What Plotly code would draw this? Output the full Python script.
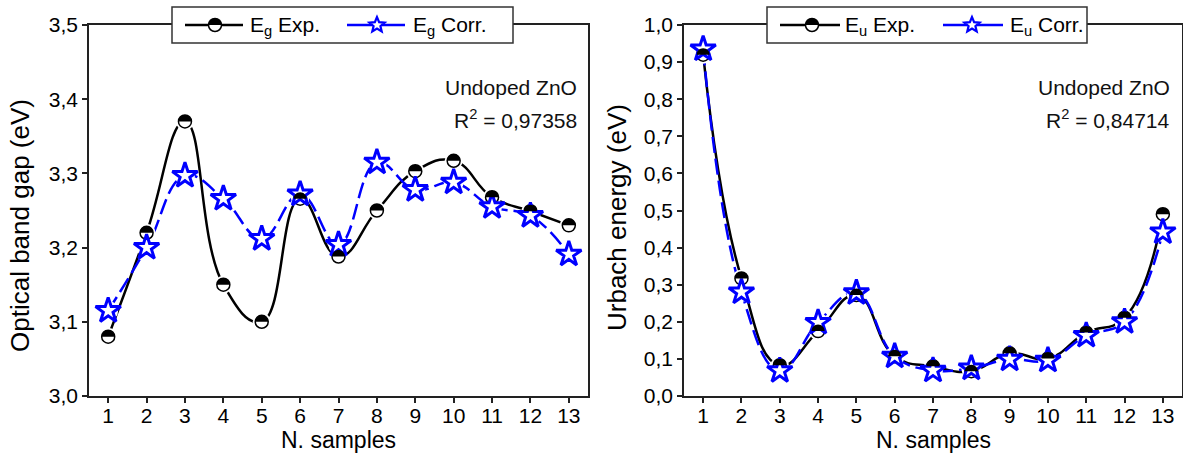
import math
import plotly.graph_objects as go

# ---------------- data ----------------
samples = list(range(1, 14))
eg_exp = [3.080, 3.220, 3.370, 3.150, 3.100, 3.266, 3.188, 3.250, 3.303, 3.317, 3.268, 3.249, 3.230]
eg_corr = [3.115, 3.200, 3.297, 3.266, 3.212, 3.272, 3.204, 3.315, 3.278, 3.288, 3.255, 3.243, 3.191]
eu_exp = [0.920, 0.317, 0.083, 0.175, 0.272, 0.107, 0.080, 0.067, 0.115, 0.101, 0.171, 0.211, 0.490]
eu_corr = [0.935, 0.280, 0.068, 0.198, 0.278, 0.107, 0.069, 0.075, 0.099, 0.096, 0.163, 0.200, 0.442]
x_ticks = list(range(1, 14))
left_yticks = [3.0, 3.1, 3.2, 3.3, 3.4, 3.5]
right_yticks = [0.0, 0.1, 0.2, 0.3, 0.4, 0.5, 0.6, 0.7, 0.8, 0.9, 1.0]
legend_left = ["E<sub>g</sub> Exp.", "E<sub>g</sub> Corr."]
legend_right = ["E<sub>u</sub> Exp.", "E<sub>u</sub> Corr."]
r2_left = "0,97358"
r2_right = "0,84714"

FONT = "Liberation Sans, Arial, sans-serif"
BLUE = "#0000ff"
W, H = 1183, 457
PT, PB = 25, 396          # plot top / bottom in pixels
PH = PB - PT

def py(ypix):            # pixel row -> paper y
    return (PB - ypix) / PH

def px(xpix):            # pixel column -> paper x
    return xpix / W

fig = go.Figure()

series = [
    (eg_exp, "x", "y", "exp"), (eg_corr, "x", "y", "corr"),
    (eu_exp, "x2", "y2", "exp"), (eu_corr, "x2", "y2", "corr"),
]

# 1) lines
for ys, xa, ya, kind in series:
    if kind == "exp":
        line = dict(color="black", width=2.5, shape="spline", smoothing=1.3)
    else:
        line = dict(color=BLUE, width=2.5, shape="spline", smoothing=1.2, dash="16px,6px")
    fig.add_trace(go.Scatter(x=samples, y=ys, xaxis=xa, yaxis=ya, mode="lines", line=line,
                             showlegend=False, hoverinfo="skip"))
# 2) white halos (gap between line and symbol)
for ys, xa, ya, kind in series:
    fig.add_trace(go.Scatter(x=samples, y=ys, xaxis=xa, yaxis=ya, mode="markers",
                             marker=dict(symbol="circle", size=18 if kind == "exp" else 20,
                                         color="white", line=dict(width=0)),
                             showlegend=False, hoverinfo="skip"))
# 3) symbols
for ys, xa, ya, kind in series:
    if kind == "exp":
        marker = dict(symbol="circle", size=13, color="white", line=dict(color="black", width=1.5))
    else:
        marker = dict(symbol="star", size=19, color="white", line=dict(color=BLUE, width=3))
    fig.add_trace(go.Scatter(x=samples, y=ys, xaxis=xa, yaxis=ya, mode="markers", marker=marker,
                             showlegend=False, hoverinfo="skip"))

# ---- glyph paths (pixel units, y up) ----
R = 6.5
K = 0.5523
half_top = (f"M {-R} 0 C {-R} {K*R} {-K*R} {R} 0 {R} "
            f"C {K*R} {R} {R} {K*R} {R} 0 Z")

def star_path(ro, ri):
    pts = []
    for k in range(10):
        a = math.radians(90 + 36 * k)
        r = ro if k % 2 == 0 else ri
        pts.append(f"{r*math.cos(a):.2f} {r*math.sin(a):.2f}")
    return "M " + " L ".join(pts) + " Z"

shapes = []
# half-filled tops of circle markers in the plots
for xa, ya, ys in (("x", "y", eg_exp), ("x2", "y2", eu_exp)):
    for xi, yi in zip(samples, ys):
        shapes.append(dict(type="path", xref=xa, yref=ya, xsizemode="pixel", ysizemode="pixel",
                           xanchor=xi, yanchor=yi, path=half_top, fillcolor="black",
                           line=dict(width=0), layer="above"))

# ---- manual legends ----
annotations = []
legend_specs = [
    (172, 513, 185, 243, 215, 248, 347, 405, 377, 411, legend_left),
    (767, 1087, 780, 840, 812, 843, 943, 1003, 972, 1008, legend_right),
]
LY = 25
for (b0, b1, l0, l1, mx, tx, bl0, bl1, sx, tx2, labels) in legend_specs:
    shapes.append(dict(type="rect", xref="paper", yref="paper", x0=px(b0), x1=px(b1),
                       y0=py(43), y1=py(7), fillcolor="white",
                       line=dict(color="#333", width=1.5), layer="above"))
    shapes.append(dict(type="line", xref="paper", yref="paper", x0=px(l0), x1=px(l1),
                       y0=py(LY), y1=py(LY), line=dict(color="black", width=2.5), layer="above"))
    shapes.append(dict(type="circle", xref="paper", yref="paper", xsizemode="pixel",
                       ysizemode="pixel", xanchor=px(mx), yanchor=py(LY),
                       x0=-R, x1=R, y0=-R, y1=R, fillcolor="white",
                       line=dict(color="black", width=1.5), layer="above"))
    shapes.append(dict(type="path", xref="paper", yref="paper", xsizemode="pixel",
                       ysizemode="pixel", xanchor=px(mx), yanchor=py(LY), path=half_top,
                       fillcolor="black", line=dict(width=0), layer="above"))
    shapes.append(dict(type="line", xref="paper", yref="paper", x0=px(bl0), x1=px(bl1),
                       y0=py(LY), y1=py(LY), line=dict(color=BLUE, width=2.5), layer="above"))
    shapes.append(dict(type="path", xref="paper", yref="paper", xsizemode="pixel",
                       ysizemode="pixel", xanchor=px(sx), yanchor=py(LY),
                       path=star_path(8, 3.6), fillcolor="white",
                       line=dict(color=BLUE, width=2.2), layer="above"))
    for t, xx in ((labels[0], tx), (labels[1], tx2)):
        annotations.append(dict(text=t, x=px(xx), y=py(LY + 1), xref="paper", yref="paper",
                                xanchor="left", yanchor="middle", showarrow=False,
                                font=dict(family=FONT, size=21, color="black")))

axis_common = dict(showline=True, linecolor="#222", linewidth=1.5, mirror=True,
                   ticks="outside", ticklen=5, tickwidth=1.5, tickcolor="#222",
                   showgrid=False, zeroline=False,
                   tickfont=dict(family=FONT, size=21, color="black"))
xaxis_extra = dict(ticklabelstandoff=-5)

fig.update_layout(
    width=W, height=H,
    margin=dict(l=0, r=0, t=PT, b=H - PB),
    paper_bgcolor="white", plot_bgcolor="white",
    separators=",.",
    showlegend=False,
    font=dict(family=FONT, color="black"),
    shapes=shapes,
    xaxis=dict(domain=[89 / W, 588 / W], range=[0.5, 13.5], tickvals=x_ticks,
               anchor="y", **axis_common, **xaxis_extra),
    yaxis=dict(domain=[0, 1], range=[3.0, 3.5], tickvals=left_yticks, tickformat=".1f",
               anchor="x", **axis_common),
    xaxis2=dict(domain=[684 / W, 1182 / W], range=[0.5, 13.5], tickvals=x_ticks,
                anchor="y2", **axis_common, **xaxis_extra),
    yaxis2=dict(domain=[0, 1], range=[0.0, 1.0], tickvals=right_yticks, tickformat=".1f",
                anchor="x2", **axis_common),
)

ann_font = dict(family=FONT, size=21, color="#111")
title_font_x = dict(family=FONT, size=23, color="black")
title_font_y = dict(family=FONT, size=26, color="black")
texts = [
    dict(text="Undoped ZnO", x=px(579), y=py(88), xanchor="right", font=ann_font),
    dict(text=f"R<sup>2</sup> = {r2_left}", x=px(579), y=py(119), xanchor="right", font=ann_font),
    dict(text="Undoped ZnO", x=px(1172), y=py(88), xanchor="right", font=ann_font),
    dict(text=f"R<sup>2</sup> = {r2_right}", x=px(1172), y=py(119), xanchor="right", font=ann_font),
    dict(text="Optical band gap (eV)", x=px(20), y=py(226), textangle=-90, font=title_font_y),
    dict(text="Urbach energy (eV)", x=px(617), y=py(218), textangle=-90, font=title_font_y),
    dict(text="N. samples", x=px(338), y=py(440), font=title_font_x),
    dict(text="N. samples", x=px(933), y=py(440), font=title_font_x),
]
for t in texts:
    t.setdefault("xanchor", "center")
    t.update(xref="paper", yref="paper", showarrow=False, yanchor="middle")
fig.update_layout(annotations=annotations + texts)

fig.write_html("out.html", config={"displayModeBar": False},
               post_script="document.body.style.margin='0';")
